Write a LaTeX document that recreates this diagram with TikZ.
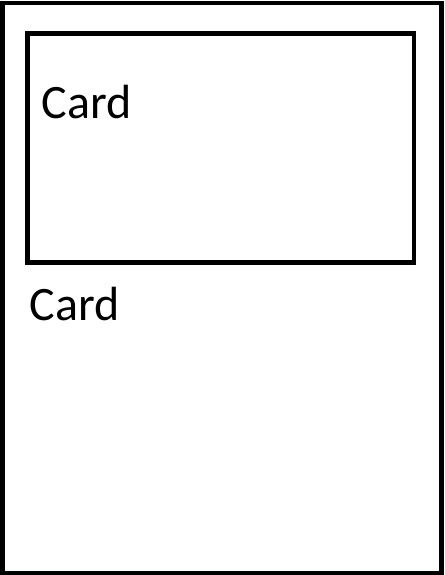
\documentclass[tikz,border=0pt]{standalone}
\usepackage{fontspec}
\setmainfont{Carlito}
\usepackage{tikz}
\usetikzlibrary{positioning}
\tikzstyle{cardbox} = [draw, black, line width=4.5pt, minimum width=0pt, minimum height=0pt, inner sep=0pt]
\tikzstyle{cardlabel} = [anchor=base west, inner sep=0pt, font=\fontsize{48}{58}\selectfont]

\begin{document}
\begin{tikzpicture}[x=1pt, y=-1pt]
    \useasboundingbox (0,0) rectangle (444,575);
    % outer card
    \node[cardbox, minimum width=439pt, minimum height=570pt] (outer) at (222,288) {};
    % inner card
    \node[cardbox, minimum width=386.5pt, minimum height=229pt] (inner) at (220.75,148) {};
    \node[cardlabel] (innerlabel) at (41.5,118) {Card};
    \node[cardlabel] (outerlabel) at (29.5,320) {Card};
\end{tikzpicture}
\end{document}
